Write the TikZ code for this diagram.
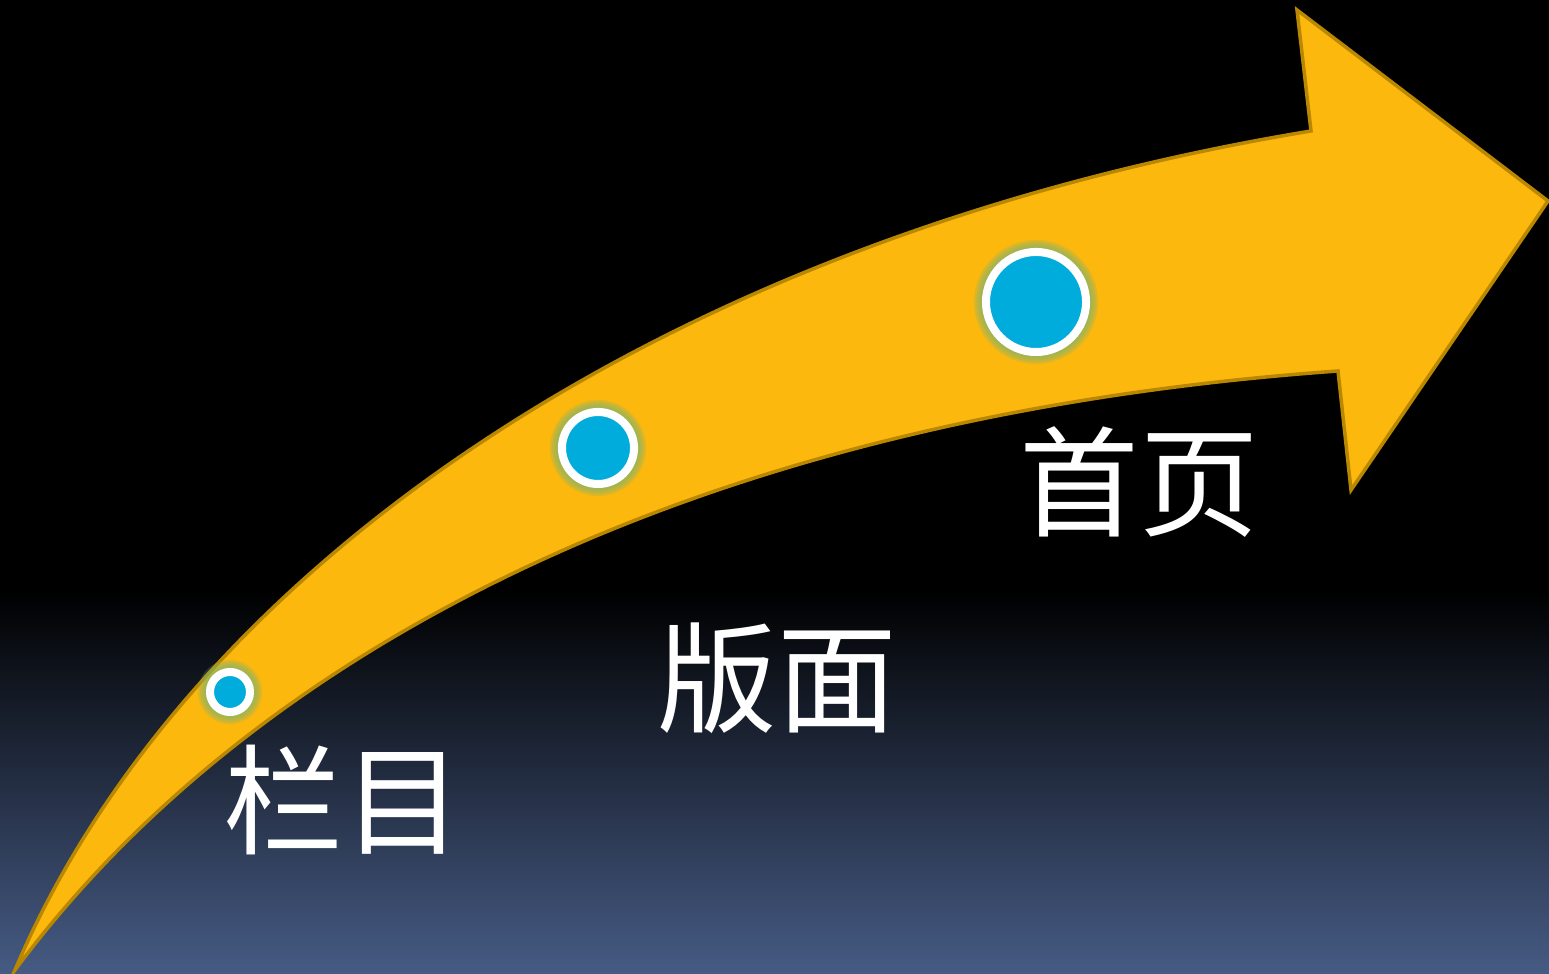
\documentclass[tikz,border=0pt]{standalone}
\usepackage{fontspec}
\newfontfamily\cjk{Noto Sans CJK SC}
\usepackage{tikz}
\usetikzlibrary{positioning, calc}

\definecolor{arrowfill}{RGB}{253,184,14}
\definecolor{arrowline}{RGB}{186,136,0}
\definecolor{dotblue}{RGB}{0,172,220}
\definecolor{glowgreen}{RGB}{125,180,110}
\definecolor{bgblue}{RGB}{70,91,132}

\begin{document}
\begin{tikzpicture}[
    x=0.01cm, y=-0.01cm,
    dot/.style={circle, fill=dotblue, draw=white, line width=0.08cm, inner sep=0pt},
    glow/.style={fill=glowgreen, opacity=0.25},
    word/.style={text=white, font=\cjk\fontsize{34}{40}\selectfont, inner sep=0pt}
]

    % Background
    \fill[black] (0,0) rectangle (1549,974);
    \shade[top color=black, bottom color=bgblue] (0,590) rectangle (1549,974);
    \useasboundingbox (0,0) rectangle (1549,974);

    % Arrow
    \draw[fill=arrowfill, draw=arrowline, line width=0.035cm, line join=miter]
        (15,970) .. controls (180,580) and (650,240) .. (1311,131)
        -- (1297,10) -- (1548,201) -- (1351,490) -- (1338,371)
        .. controls (650,420) and (230,680) .. (15,970) -- cycle;

    % Glow
    \foreach \cx/\cy/\r in {230/692/24, 598/448/40, 1036/302/54} {
        \foreach \g in {2,4,6,8}
            \fill[glow] (\cx,\cy) circle ({\r+\g});
    }

    % Dots
    \node[dot, minimum size=0.4cm] (dotA) at (230,692) {};
    \node[dot, minimum size=0.72cm] (dotB) at (598,448) {};
    \node[dot, minimum size=1cm] (dotC) at (1036,302) {};

    % Labels
    \node[word] (lanmu) at (343,800) {栏目};
    \node[word] (banmian) at (777,678) {版面};
    \node[word] (shouye) at (1139,482) {首页};

\end{tikzpicture}
\end{document}
